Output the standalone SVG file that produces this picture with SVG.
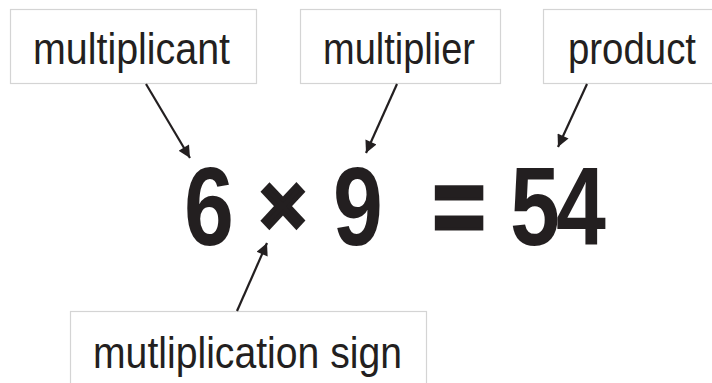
<svg xmlns="http://www.w3.org/2000/svg" width="712" height="383" viewBox="0 0 712 383">
<style>
.box{fill:#fff;stroke:#d4d4d4;stroke-width:1.2}
.lbl{font-family:"Liberation Sans",Arial,sans-serif;font-size:44px;fill:#231f20}
.big{font-family:"Liberation Sans",Arial,sans-serif;font-weight:bold;font-size:112px;fill:#231f20;text-anchor:middle}
.arr{stroke:#231f20;stroke-width:2.2;fill:none;marker-end:url(#ah)}
</style>
<defs>
<marker id="ah" viewBox="0 0 10 10" refX="10" refY="5" markerWidth="6.5" markerHeight="5.5" markerUnits="strokeWidth" orient="auto">
<path d="M0,0 L10,5 L0,10 Z" fill="#231f20"/>
</marker>
</defs>
<rect width="712" height="383" fill="#fff"/>
<g id="multiplicant">
<rect class="box" x="10.5" y="9.5" width="246" height="74"/>
<text class="lbl" x="33" y="64" textLength="197" lengthAdjust="spacingAndGlyphs">multiplicant</text>
</g>
<g id="multiplier">
<rect class="box" x="300.5" y="9.5" width="200" height="74"/>
<text class="lbl" x="323" y="64" textLength="152" lengthAdjust="spacingAndGlyphs">multiplier</text>
</g>
<g id="product">
<rect class="box" x="543.5" y="9.5" width="180" height="74"/>
<text class="lbl" x="568" y="64" textLength="128" lengthAdjust="spacingAndGlyphs">product</text>
</g>
<g id="sign">
<rect class="box" x="70.5" y="311.5" width="356" height="90"/>
<text class="lbl" x="93" y="368" textLength="309" lengthAdjust="spacingAndGlyphs">mutliplication sign</text>
</g>
<g id="equation">
<text class="big" transform="translate(209,245) scale(0.8,1)">6</text>
<text class="big" transform="translate(283,234) scale(0.7,0.74)" stroke="#231f20" stroke-width="6">×</text>
<text class="big" transform="translate(358,245) scale(0.8,1)">9</text>
<text class="big" transform="translate(459,245) scale(0.82,1)" stroke="#231f20" stroke-width="3">=</text>
<text class="big" transform="translate(535,245) scale(0.8,1)">5</text>
<text class="big" transform="translate(581,245) scale(0.8,1)">4</text>
</g>
<g id="connectors">
<line class="arr" x1="146" y1="84" x2="190" y2="158"/>
<line class="arr" x1="397" y1="84" x2="366" y2="153"/>
<line class="arr" x1="587" y1="84" x2="558" y2="147"/>
<line class="arr" x1="237" y1="311" x2="267" y2="243"/>
</g>
</svg>
